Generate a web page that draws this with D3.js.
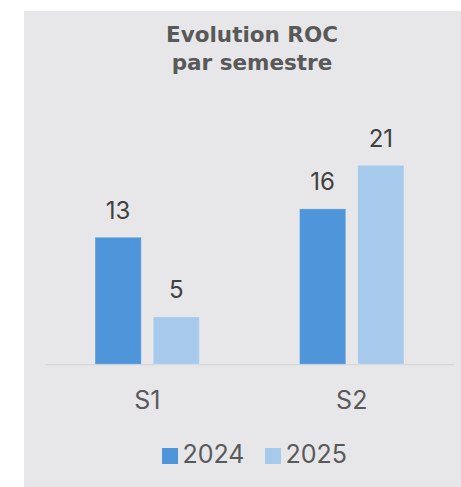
<!DOCTYPE html>
<html><head><meta charset="utf-8">
<script src="https://cdn.jsdelivr.net/npm/d3@7"></script>
<style>html,body{margin:0;padding:0;background:#fff;}svg{display:block;}</style>
</head><body>
<svg id="chart" width="461" height="487"></svg>
<script>
const categories = ["S1", "S2"];
const seriesNames = ["2024", "2025"];
const values2024 = [13.4, 16.4];
const values2025 = [5, 21];
const titleLines = ["Evolution ROC", "par semestre"];

const colors = {"2024": "#4F95DA", "2025": "#A7CAEC"};
const font = "Inter, 'Open Sans', 'Liberation Sans', sans-serif";
const titleFont = "'DejaVu Sans', Inter, sans-serif";

const svg = d3.select("#chart");
svg.append("rect").attr("x", 24).attr("y", 11).attr("width", 437).attr("height", 476).attr("fill", "#E7E7E9");

const title = svg.append("text").attr("text-anchor", "middle").attr("font-family", titleFont)
  .attr("font-weight", "700").attr("font-size", 21.5).attr("fill", "#595959");
title.selectAll("tspan").data(titleLines).join("tspan")
  .attr("x", 252).attr("y", (d, i) => 41.7 + i * 27.8).text(d => d);

const data = categories.map((c, i) => ({cat: c, vals: [
  {s: "2024", v: values2024[i]}, {s: "2025", v: values2025[i]}]}));

const x0 = d3.scaleBand().domain(categories).range([45, 454]).padding(0);
const x1 = d3.scaleBand().domain(seriesNames).range([-52.2, 52.2]).paddingInner(0.206).paddingOuter(0);
const y = d3.scaleLinear().domain([0, 25]).range([364.2, 127.4]);

svg.append("line").attr("x1", 45).attr("x2", 454).attr("y1", 364.7).attr("y2", 364.7)
  .attr("stroke", "#D6D6D8").attr("stroke-width", 1.2);

const g = svg.selectAll("g.grp").data(data).join("g").attr("class", "grp")
  .attr("transform", d => `translate(${x0(d.cat) + x0.bandwidth() / 2},0)`);

g.selectAll("rect").data(d => d.vals).join("rect")
  .attr("x", d => x1(d.s)).attr("width", x1.bandwidth())
  .attr("y", d => y(d.v)).attr("height", d => y(0) - y(d.v))
  .attr("fill", d => colors[d.s])
  .attr("stroke", "rgba(255,255,255,0.25)").attr("stroke-width", 1);

g.selectAll("text.lbl").data(d => d.vals).join("text").attr("class", "lbl")
  .attr("x", d => x1(d.s) + x1.bandwidth() / 2).attr("y", d => y(d.v) - 18.5)
  .attr("text-anchor", "middle").attr("font-family", font).attr("font-size", 24)
  .attr("fill", "#404040").text(d => d3.format(".0f")(d.v));

const xAxis = svg.append("g").attr("transform", "translate(0,364.7)")
  .call(d3.axisBottom(x0).tickSize(0).tickPadding(0));
xAxis.select(".domain").remove();
xAxis.selectAll("text").attr("dy", null).attr("y", 44.6).attr("font-family", font)
  .attr("font-size", 25).attr("fill", "#595959");

const legendX = [162, 265];
const leg = svg.selectAll("g.leg").data(seriesNames).join("g").attr("class", "leg")
  .attr("transform", (d, i) => `translate(${legendX[i]},448)`);
leg.append("rect").attr("width", 16).attr("height", 16).attr("fill", d => colors[d]);
leg.append("text").attr("x", 20.5).attr("y", 15).attr("font-family", font).attr("font-size", 25)
  .attr("fill", "#595959").text(d => d);
</script>
</body></html>
